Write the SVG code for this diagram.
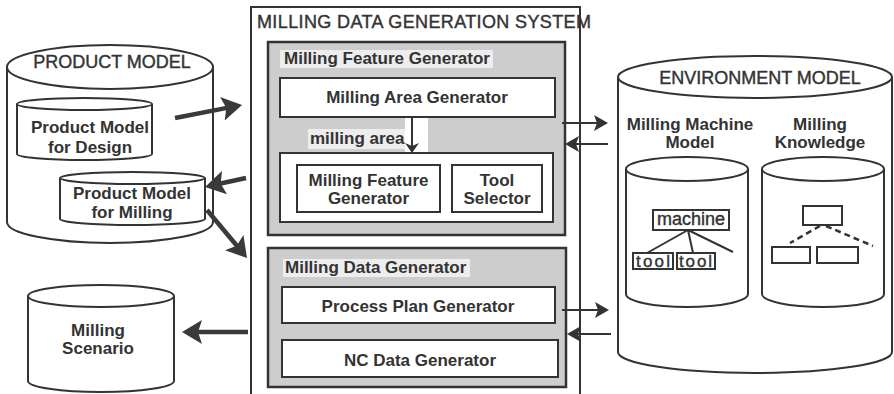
<svg xmlns="http://www.w3.org/2000/svg" width="894" height="394" viewBox="0 0 894 394">
<style>
.ln{fill:none;stroke:#333;stroke-width:2}
.cyl{fill:#fff;stroke:#333;stroke-width:2}
.box{fill:#fff;stroke:#333;stroke-width:2}
.gray{fill:#cdcdcd;stroke:#333;stroke-width:2.5}
.lbl{fill:#ededed}
.t{font-family:"Liberation Sans",Arial,sans-serif;font-weight:bold;font-size:17px;fill:#333}
.T{font-family:"Liberation Sans",Arial,sans-serif;font-size:18px;fill:#333;stroke:#333;stroke-width:0.4}
.c{text-anchor:middle}
.thick{fill:none;stroke:#3a3a3a;stroke-width:4.5}
.thin{fill:none;stroke:#333;stroke-width:2}
.dash{fill:none;stroke:#333;stroke-width:2.5;stroke-dasharray:6 4}
</style>
<defs>
<marker id="hb" viewBox="0 0 20 24" refX="10" refY="12" markerWidth="20" markerHeight="24" markerUnits="userSpaceOnUse" orient="auto">
<path d="M0,0 L20,12 L0,24 L4,12 z" fill="#3a3a3a"/>
</marker>
<marker id="hs" viewBox="0 0 14 16" refX="10" refY="8" markerWidth="14" markerHeight="16" markerUnits="userSpaceOnUse" orient="auto">
<path d="M0,0 L14,8 L0,16 L3,8 z" fill="#333"/>
</marker>
<marker id="hv" viewBox="0 0 10 18" refX="8" refY="9" markerWidth="10" markerHeight="18" markerUnits="userSpaceOnUse" orient="auto">
<path d="M0,2 L10,9 L0,16 L3,9 z" fill="#333"/>
</marker>
</defs>

<g id="product-model">
<path class="cyl" d="M7,67 L7,222 A103,21 0 0 0 213,222 L213,67"/>
<ellipse class="cyl" cx="110" cy="67" rx="103" ry="22"/>
<text class="T c" x="112" y="68">PRODUCT MODEL</text>
</g>
<g id="pm-design">
<path class="cyl" d="M17,104 L17,154 A67.5,6 0 0 0 152,154 L152,104"/>
<ellipse class="cyl" cx="84.5" cy="104" rx="67.5" ry="6"/>
<text class="t c" x="90" y="133">Product Model</text>
<text class="t c" x="90" y="153">for Design</text>
</g>
<g id="pm-milling">
<path class="cyl" d="M60,178 L60,219 A72.5,6 0 0 0 205,219 L205,178"/>
<ellipse class="cyl" cx="132.5" cy="178" rx="72.5" ry="6"/>
<text class="t c" x="132" y="199">Product Model</text>
<text class="t c" x="132" y="218">for Milling</text>
</g>
<g id="milling-scenario">
<path class="cyl" d="M28,296 L28,381 A73,11 0 0 0 174,381 L174,296"/>
<ellipse class="cyl" cx="101" cy="296" rx="73" ry="11"/>
<text class="t c" x="98" y="336">Milling</text>
<text class="t c" x="98" y="354">Scenario</text>
</g>

<g id="system">
<rect class="ln" x="251" y="7" width="329" height="400"/>
<text class="T" x="257" y="28" textLength="334">MILLING DATA GENERATION SYSTEM</text>
</g>
<g id="feature-generator">
<rect class="gray" x="268" y="42" width="297" height="193"/>
<rect class="lbl" x="280" y="50" width="213" height="18"/>
<text class="t" x="284" y="64">Milling Feature Generator</text>
</g>
<g id="area-generator">
<rect class="box" x="280" y="78" width="275" height="39"/>
<text class="t c" x="417" y="103">Milling Area Generator</text>
</g>
<g id="milling-area-label">
<rect fill="#fff" x="405" y="118" width="23" height="35"/>
<rect class="lbl" x="308" y="129" width="97" height="20"/>
<text class="t" x="310" y="144">milling area</text>
</g>
<g id="feature-tool">
<rect class="box" x="280" y="153" width="273" height="69"/>
</g>
<g id="mf-generator">
<rect class="box" x="297" y="165" width="143" height="47"/>
<text class="t c" x="368.5" y="186">Milling Feature</text>
<text class="t c" x="368.5" y="204">Generator</text>
</g>
<g id="tool-selector">
<rect class="box" x="452" y="165" width="90" height="47"/>
<text class="t c" x="497" y="186">Tool</text>
<text class="t c" x="497" y="204">Selector</text>
</g>
<g id="data-generator">
<rect class="gray" x="268" y="248" width="298" height="139"/>
<rect class="lbl" x="283" y="259" width="187" height="18"/>
<text class="t" x="285" y="273">Milling Data Generator</text>
</g>
<g id="process-plan">
<rect class="box" x="282" y="287" width="273" height="36"/>
<text class="t c" x="418" y="312">Process Plan Generator</text>
</g>
<g id="nc-data">
<rect class="box" x="282" y="340" width="276" height="37"/>
<text class="t c" x="420" y="366">NC Data Generator</text>
</g>

<g id="environment-model">
<path class="cyl" d="M618,77 L618,352 A137,21 0 0 0 892,352 L892,77"/>
<ellipse class="cyl" cx="755" cy="77" rx="137" ry="21"/>
<text class="T c" x="760" y="84">ENVIRONMENT MODEL</text>
<text class="t c" x="690" y="130">Milling Machine</text>
<text class="t c" x="690" y="148">Model</text>
<text class="t c" x="820" y="130">Milling</text>
<text class="t c" x="820" y="148">Knowledge</text>
</g>
<g id="machine-model">
<path class="cyl" d="M626,169 L626,294 A61,13 0 0 0 748,294 L748,169"/>
<ellipse class="cyl" cx="687" cy="169" rx="61" ry="12"/>
<rect class="box" x="653" y="210" width="76" height="20"/>
<text class="T c" x="691" y="225">machine</text>
<path class="ln" d="M688,230 L647,253 M688,230 L693,253 M688,230 L733,252"/>
<rect class="box" x="633" y="253" width="40" height="16"/>
<text class="T" x="636" y="267" style="font-size:17px" textLength="34">tool</text>
<rect class="box" x="677" y="253" width="38" height="16"/>
<text class="T" x="679" y="267" style="font-size:17px" textLength="33">tool</text>
</g>
<g id="knowledge">
<path class="cyl" d="M762,169 L762,294 A61,13 0 0 0 884,294 L884,169"/>
<ellipse class="cyl" cx="823" cy="169" rx="61" ry="12"/>
<rect class="box" x="803" y="206" width="39" height="19"/>
<path class="dash" d="M820,226 L790,243 M826,226 L873,246"/>
<rect class="box" x="772" y="247" width="38" height="16"/>
<rect class="box" x="817" y="247" width="41" height="16"/>
</g>

<g id="connectors">
<path class="thick" d="M175,118 L232.2,106.9" marker-end="url(#hb)"/>
<path class="thick" d="M246,178 L214.8,184.8" marker-end="url(#hb)"/>
<path class="thick" d="M207,210 L240.6,250.3" marker-end="url(#hb)"/>
<path class="thick" d="M248,332 L192,332" marker-end="url(#hb)"/>
<path class="thin" d="M412,117 L412,151" marker-end="url(#hv)"/>
<path class="thin" d="M562,123 L604,123" marker-end="url(#hs)"/>
<path class="thin" d="M608,144 L569,144" marker-end="url(#hs)"/>
<path class="thin" d="M562,310 L605,310" marker-end="url(#hs)"/>
<path class="thin" d="M611,334 L571,334" marker-end="url(#hs)"/>
</g>
</svg>
